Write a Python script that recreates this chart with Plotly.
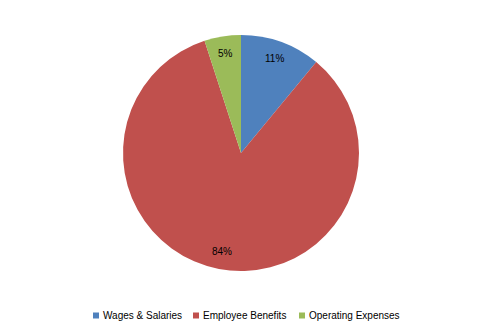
import math
import plotly.graph_objects as go

categories = ["Wages & Salaries", "Employee Benefits", "Operating Expenses"]
values = [11, 84, 5]
colors = ["#4F81BD", "#C0504D", "#9BBB59"]

W, H = 482, 335
cx, cy, r = 241, 153, 118
dom_x = [(cx - r) / W, (cx + r) / W]
dom_y = [(H - cy - r) / H, (H - cy + r) / H]
FONT = "Liberation Sans, Arial, sans-serif"

fig = go.Figure(go.Pie(
    labels=categories, values=values, sort=False, direction="clockwise",
    rotation=0, marker=dict(colors=colors, line=dict(width=0)),
    textinfo="none", hoverinfo="label+percent",
    domain=dict(x=dom_x, y=dom_y), showlegend=False,
))

total = sum(values)
cum = 0
frac = 0.85
annotations = []
for v in values:
    mid = (cum + v / 2) / total * 2 * math.pi
    cum += v
    px = cx + frac * r * math.sin(mid)
    py = cy - frac * r * math.cos(mid)
    annotations.append(dict(
        x=px / W, y=(H - py) / H, xref="paper", yref="paper",
        xanchor="center", yanchor="middle",
        text=f"{round(v / total * 100)}%", showarrow=False,
        font=dict(family=FONT, size=10, color="#000000"),
    ))

# custom legend (Excel style)
legend_x = [93, 193, 299]
legend_y = 315.5
shapes = []
for lx, name, col in zip(legend_x, categories, colors):
    shapes.append(dict(type="rect", xref="paper", yref="paper",
                       x0=lx / W, x1=(lx + 6) / W,
                       y0=(H - legend_y - 3) / H, y1=(H - legend_y + 3) / H,
                       fillcolor=col, line=dict(width=0)))
    annotations.append(dict(x=(lx + 8) / W, y=(H - legend_y) / H, xref="paper", yref="paper",
                            xanchor="left", yanchor="middle", text=name, showarrow=False,
                            font=dict(family=FONT, size=10, color="#000000")))

fig.update_layout(
    width=W, height=H, margin=dict(l=0, r=0, t=0, b=0),
    paper_bgcolor="white", plot_bgcolor="white",
    annotations=annotations, shapes=shapes,
)

fig.write_html("out.html")
